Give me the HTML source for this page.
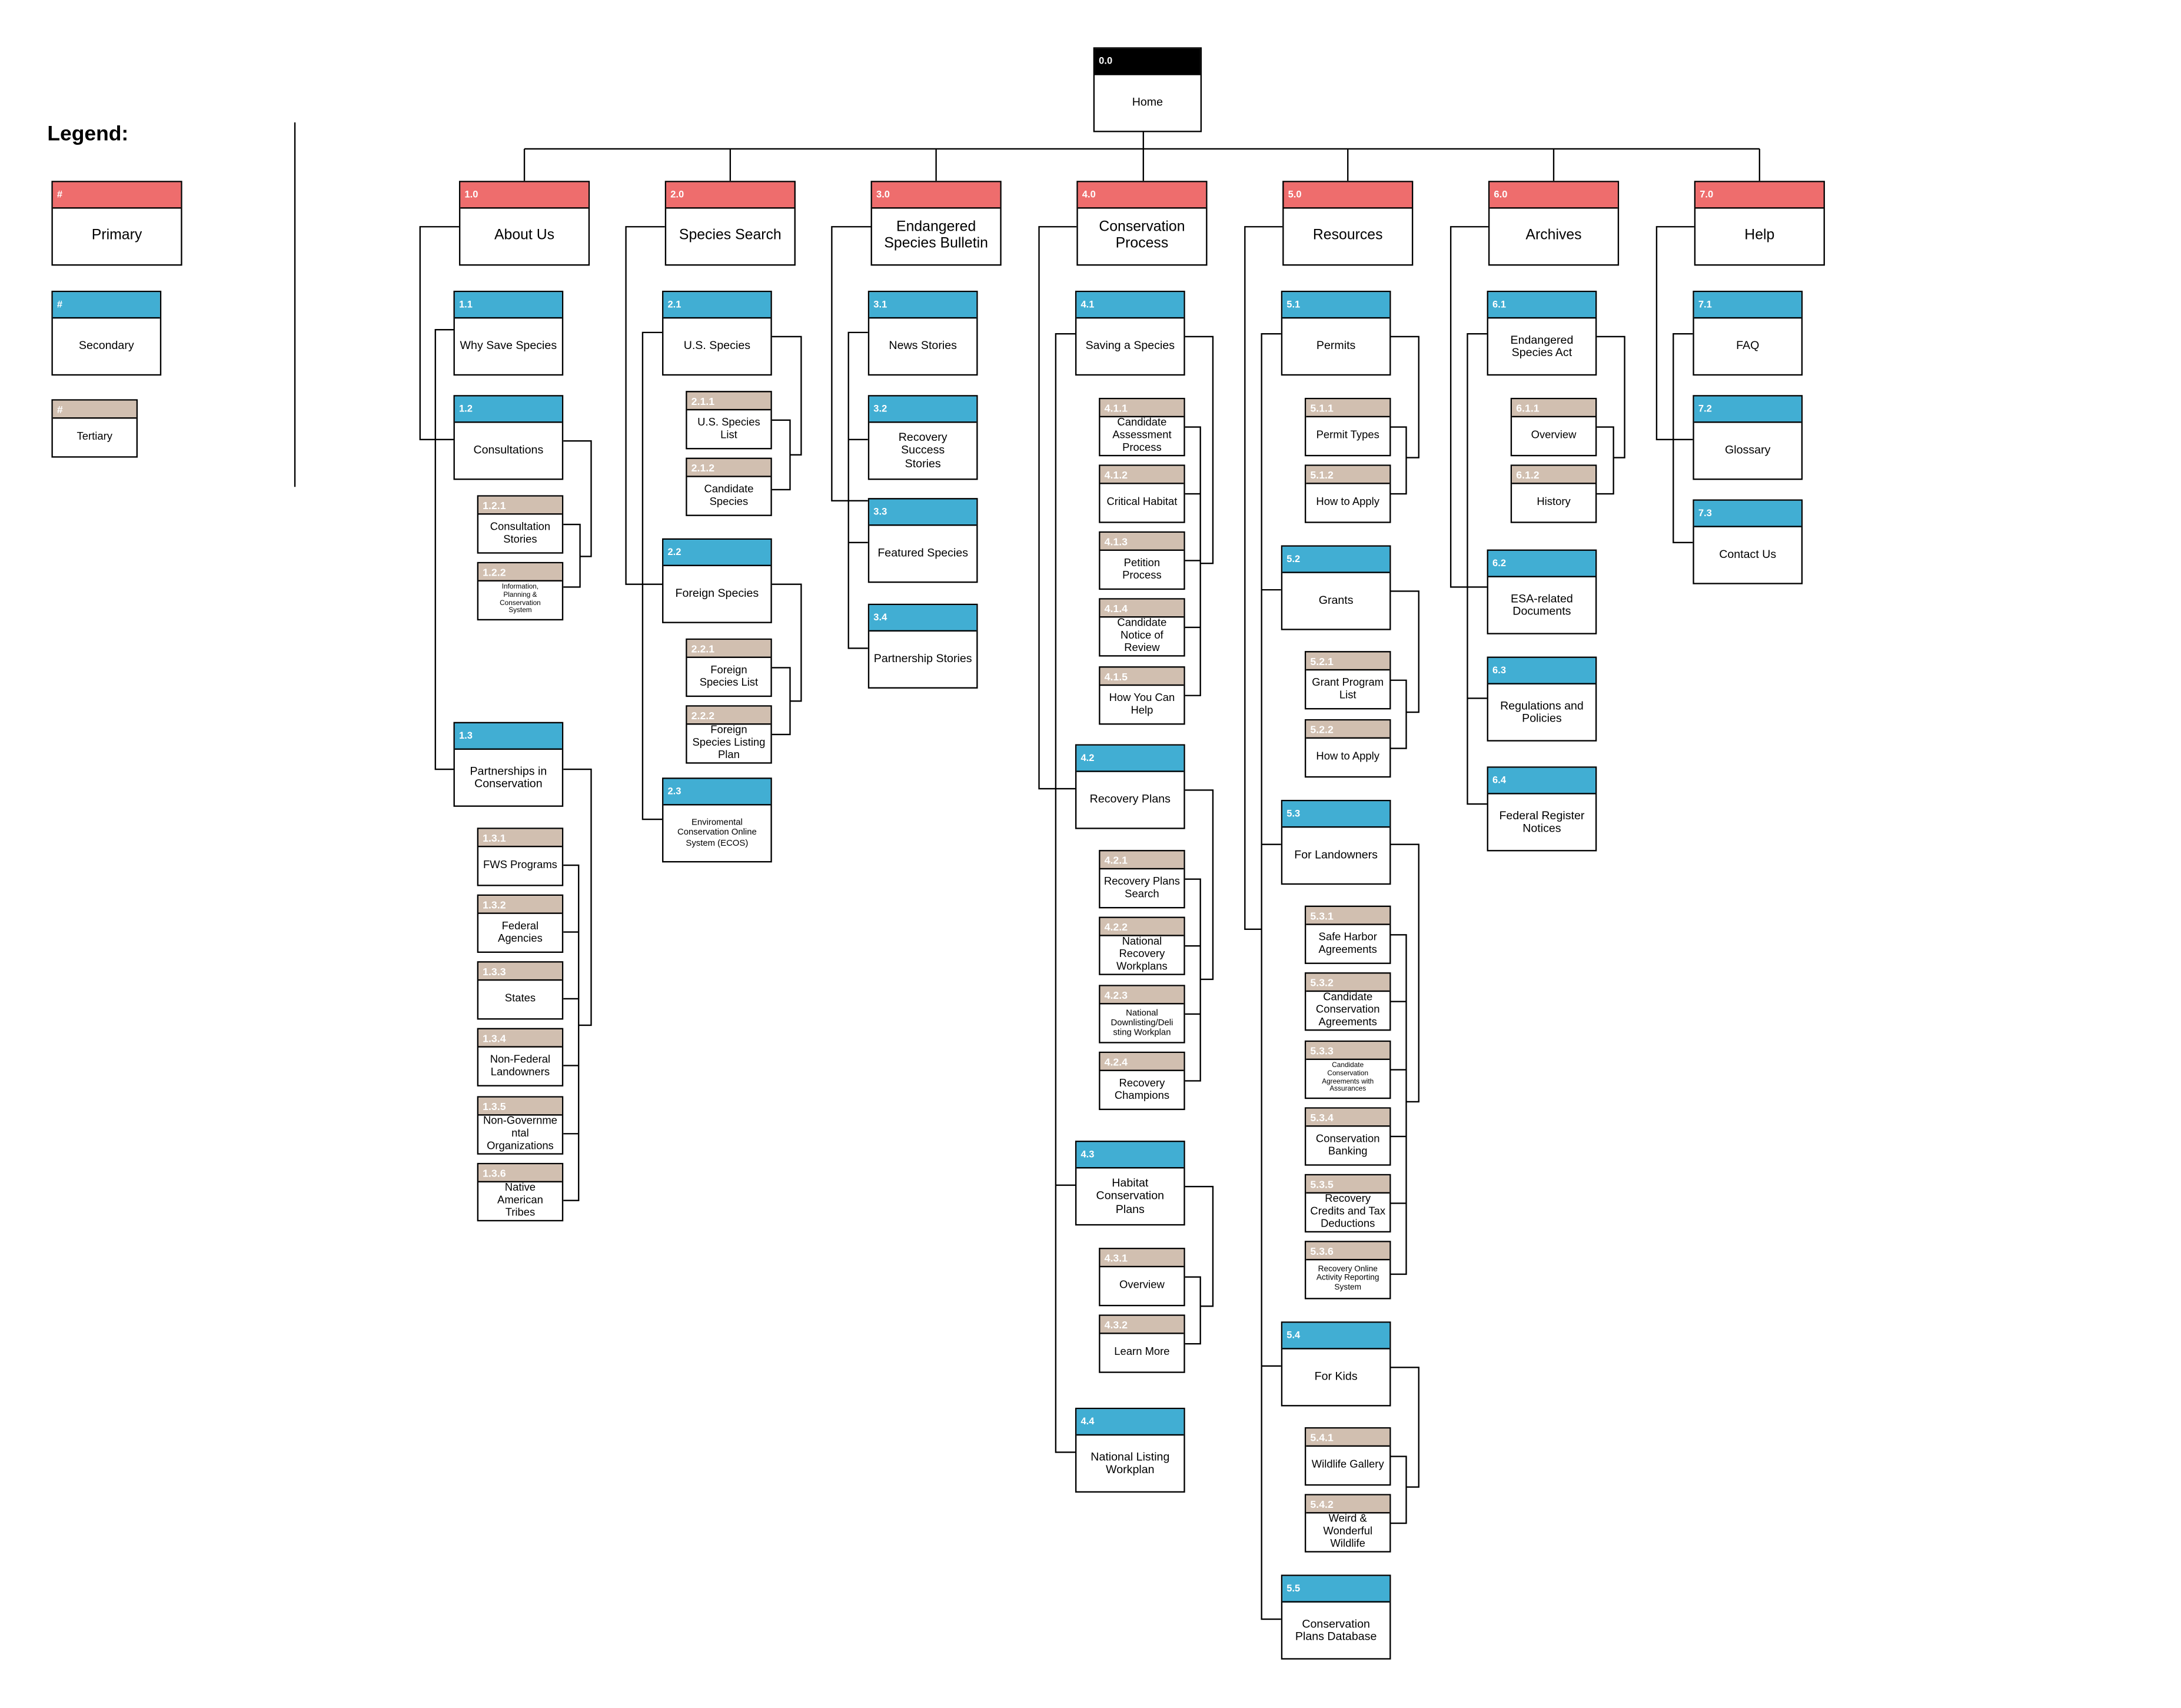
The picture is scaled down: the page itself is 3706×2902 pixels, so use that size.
<!DOCTYPE html>
<html><head><meta charset="utf-8"><style>
html,body{margin:0;padding:0;background:#fff;width:3706px;height:2902px;overflow:hidden}
#s{position:absolute;left:0;top:0;width:1568px;height:1228px;transform:scale(2.3635);transform-origin:0 0;font-family:"Liberation Sans",sans-serif}
.b{position:absolute;border:1px solid #000;background:#fff;box-sizing:border-box;display:flex;flex-direction:column}
.h{border-bottom:1px solid #000;color:#fff;font-weight:bold;font-size:7px;padding-left:3px;display:flex;align-items:center;box-sizing:border-box}
.t{flex:1;display:flex;align-items:center;justify-content:center;text-align:center;line-height:1.12;color:#000}
.P{width:94px;height:61px}.P .h{height:19px;background:#EE6D6D}.P .t{font-size:10.5px}
.S{width:79px;height:61px}.S .h{height:19px;background:#41AED3}.S .t{font-size:8.3px}
.T{width:62px;height:42px}.T .h{height:13px;background:#D1BFB0;font-size:7.5px}.T .t{font-size:7.8px}
.sm{font-size:6.3px!important}.xs{font-size:5px!important}
svg{position:absolute;left:0;top:0}
</style></head><body><div id="s">
<svg width="1568" height="1228" fill="none" stroke="#000" stroke-width="1">
<line x1="212" y1="88" x2="212" y2="350"/>
<polyline points="822,95 822,130"/>
<line x1="377" y1="107" x2="1265" y2="107"/>
<line x1="377" y1="107" x2="377" y2="130"/><line x1="525" y1="107" x2="525" y2="130"/><line x1="673" y1="107" x2="673" y2="130"/><line x1="969" y1="107" x2="969" y2="130"/><line x1="1117" y1="107" x2="1117" y2="130"/><line x1="1265" y1="107" x2="1265" y2="130"/>
<!-- col1 -->
<polyline points="330,163 302,163 302,316 326,316"/>
<polyline points="326,237 313,237 313,553 326,553"/>
<polyline points="405,317 425,317 425,400 417,400"/>
<polyline points="405,377 417,377 417,422 405,422"/>
<polyline points="405,553 425,553 425,737 416,737"/>
<polyline points="405,622 416,622 416,863 405,863"/>
<line x1="405" y1="670" x2="416" y2="670"/><line x1="405" y1="718" x2="416" y2="718"/><line x1="405" y1="766" x2="416" y2="766"/><line x1="405" y1="815" x2="416" y2="815"/>
<!-- col2 -->
<polyline points="478,163 450,163 450,420 476,420"/>
<polyline points="476,239 462,239 462,589 476,589"/>
<polyline points="554,242 576,242 576,327 568,327"/>
<polyline points="554,302 568,302 568,352 554,352"/>
<polyline points="554,420 576,420 576,504 568,504"/>
<polyline points="554,480 568,480 568,528 554,528"/>
<!-- col3 -->
<polyline points="626,163 598,163 598,360 624,360"/>
<polyline points="624,239 610,239 610,466 624,466"/>
<line x1="610" y1="316" x2="624" y2="316"/><line x1="610" y1="390" x2="624" y2="390"/>
<!-- col4 -->
<polyline points="774,163 747,163 747,567 773,567"/>
<polyline points="773,240 759,240 759,1044 773,1044"/>
<line x1="759" y1="852" x2="773" y2="852"/>
<polyline points="851,242 872,242 872,405 863,405"/>
<polyline points="851,307 863,307 863,500 851,500"/>
<line x1="851" y1="355" x2="863" y2="355"/><line x1="851" y1="403" x2="863" y2="403"/><line x1="851" y1="451" x2="863" y2="451"/>
<polyline points="851,568 872,568 872,704 863,704"/>
<polyline points="851,632 863,632 863,777 851,777"/>
<line x1="851" y1="680" x2="863" y2="680"/><line x1="851" y1="729" x2="863" y2="729"/>
<polyline points="851,853 872,853 872,939 863,939"/>
<polyline points="851,918 863,918 863,966 851,966"/>
<!-- col5 -->
<polyline points="922,163 895,163 895,668 907,668"/>
<polyline points="921,240 907,240 907,1164 921,1164"/>
<line x1="907" y1="424" x2="921" y2="424"/><line x1="907" y1="607" x2="921" y2="607"/><line x1="907" y1="982" x2="921" y2="982"/>
<polyline points="999,242 1020,242 1020,329 1011,329"/>
<polyline points="999,307 1011,307 1011,355 999,355"/>
<polyline points="999,425 1020,425 1020,512 1011,512"/>
<polyline points="999,489 1011,489 1011,538 999,538"/>
<polyline points="999,607 1020,607 1020,792 1011,792"/>
<polyline points="999,672 1011,672 1011,916 999,916"/>
<line x1="999" y1="720" x2="1011" y2="720"/><line x1="999" y1="769" x2="1011" y2="769"/><line x1="999" y1="817" x2="1011" y2="817"/><line x1="999" y1="865" x2="1011" y2="865"/>
<polyline points="999,983 1020,983 1020,1069 1011,1069"/>
<polyline points="999,1047 1011,1047 1011,1095 999,1095"/>
<!-- col6 -->
<polyline points="1070,163 1043,163 1043,422 1069,422"/>
<polyline points="1069,240 1055,240 1055,578 1069,578"/>
<line x1="1055" y1="502" x2="1069" y2="502"/>
<polyline points="1147,242 1168,242 1168,329 1160,329"/>
<polyline points="1147,307 1160,307 1160,355 1147,355"/>
<!-- col7 -->
<polyline points="1218,163 1191,163 1191,316 1217,316"/>
<polyline points="1217,240 1203,240 1203,390 1217,390"/>
</svg>

<div style="position:absolute;left:34px;top:88px;font-size:15px;font-weight:bold">Legend:</div>
<div class="b P" style="left:37px;top:130px"><div class="h">#</div><div class="t">Primary</div></div>
<div class="b S" style="left:37px;top:209px"><div class="h">#</div><div class="t">Secondary</div></div>
<div class="b T" style="left:37px;top:287px"><div class="h">#</div><div class="t">Tertiary</div></div>

<div class="b P" style="left:786px;top:34px;width:78px"><div class="h" style="background:#000">0.0</div><div class="t" style="font-size:8.3px">Home</div></div>

<div class="b P" style="left:330px;top:130px"><div class="h">1.0</div><div class="t">About Us</div></div>
<div class="b P" style="left:478px;top:130px"><div class="h">2.0</div><div class="t">Species Search</div></div>
<div class="b P" style="left:626px;top:130px"><div class="h">3.0</div><div class="t">Endangered<br>Species Bulletin</div></div>
<div class="b P" style="left:774px;top:130px"><div class="h">4.0</div><div class="t">Conservation<br>Process</div></div>
<div class="b P" style="left:922px;top:130px"><div class="h">5.0</div><div class="t">Resources</div></div>
<div class="b P" style="left:1070px;top:130px"><div class="h">6.0</div><div class="t">Archives</div></div>
<div class="b P" style="left:1218px;top:130px"><div class="h">7.0</div><div class="t">Help</div></div>

<!-- col1 -->
<div class="b S" style="left:326px;top:209px"><div class="h">1.1</div><div class="t">Why Save Species</div></div>
<div class="b S" style="left:326px;top:284px"><div class="h">1.2</div><div class="t">Consultations</div></div>
<div class="b T" style="left:343px;top:356px"><div class="h">1.2.1</div><div class="t">Consultation<br>Stories</div></div>
<div class="b T" style="left:343px;top:404px"><div class="h">1.2.2</div><div class="t xs">Information,<br>Planning &amp;<br>Conservation<br>System</div></div>
<div class="b S" style="left:326px;top:519px"><div class="h">1.3</div><div class="t">Partnerships in<br>Conservation</div></div>
<div class="b T" style="left:343px;top:595px"><div class="h">1.3.1</div><div class="t">FWS Programs</div></div>
<div class="b T" style="left:343px;top:643px"><div class="h">1.3.2</div><div class="t">Federal<br>Agencies</div></div>
<div class="b T" style="left:343px;top:691px"><div class="h">1.3.3</div><div class="t">States</div></div>
<div class="b T" style="left:343px;top:739px"><div class="h">1.3.4</div><div class="t">Non-Federal<br>Landowners</div></div>
<div class="b T" style="left:343px;top:788px"><div class="h">1.3.5</div><div class="t">Non-Governme<br>ntal<br>Organizations</div></div>
<div class="b T" style="left:343px;top:836px"><div class="h">1.3.6</div><div class="t">Native<br>American<br>Tribes</div></div>

<!-- col2 -->
<div class="b S" style="left:476px;top:209px"><div class="h">2.1</div><div class="t">U.S. Species</div></div>
<div class="b T" style="left:493px;top:281px"><div class="h">2.1.1</div><div class="t">U.S. Species<br>List</div></div>
<div class="b T" style="left:493px;top:329px"><div class="h">2.1.2</div><div class="t">Candidate<br>Species</div></div>
<div class="b S" style="left:476px;top:387px"><div class="h">2.2</div><div class="t">Foreign Species</div></div>
<div class="b T" style="left:493px;top:459px"><div class="h">2.2.1</div><div class="t">Foreign<br>Species List</div></div>
<div class="b T" style="left:493px;top:507px"><div class="h">2.2.2</div><div class="t">Foreign<br>Species Listing<br>Plan</div></div>
<div class="b S" style="left:476px;top:559px"><div class="h">2.3</div><div class="t sm">Enviromental<br>Conservation Online<br>System (ECOS)</div></div>

<!-- col3 -->
<div class="b S" style="left:624px;top:209px"><div class="h">3.1</div><div class="t">News Stories</div></div>
<div class="b S" style="left:624px;top:284px"><div class="h">3.2</div><div class="t">Recovery<br>Success<br>Stories</div></div>
<div class="b S" style="left:624px;top:358px"><div class="h">3.3</div><div class="t">Featured Species</div></div>
<div class="b S" style="left:624px;top:434px"><div class="h">3.4</div><div class="t">Partnership Stories</div></div>

<!-- col4 -->
<div class="b S" style="left:773px;top:209px"><div class="h">4.1</div><div class="t">Saving a Species</div></div>
<div class="b T" style="left:790px;top:286px"><div class="h">4.1.1</div><div class="t">Candidate<br>Assessment<br>Process</div></div>
<div class="b T" style="left:790px;top:334px"><div class="h">4.1.2</div><div class="t">Critical Habitat</div></div>
<div class="b T" style="left:790px;top:382px"><div class="h">4.1.3</div><div class="t">Petition<br>Process</div></div>
<div class="b T" style="left:790px;top:430px"><div class="h">4.1.4</div><div class="t">Candidate<br>Notice of<br>Review</div></div>
<div class="b T" style="left:790px;top:479px"><div class="h">4.1.5</div><div class="t">How You Can<br>Help</div></div>
<div class="b S" style="left:773px;top:535px"><div class="h">4.2</div><div class="t">Recovery Plans</div></div>
<div class="b T" style="left:790px;top:611px"><div class="h">4.2.1</div><div class="t">Recovery Plans<br>Search</div></div>
<div class="b T" style="left:790px;top:659px"><div class="h">4.2.2</div><div class="t">National<br>Recovery<br>Workplans</div></div>
<div class="b T" style="left:790px;top:708px"><div class="h">4.2.3</div><div class="t sm">National<br>Downlisting/Deli<br>sting Workplan</div></div>
<div class="b T" style="left:790px;top:756px"><div class="h">4.2.4</div><div class="t">Recovery<br>Champions</div></div>
<div class="b S" style="left:773px;top:820px"><div class="h">4.3</div><div class="t">Habitat<br>Conservation<br>Plans</div></div>
<div class="b T" style="left:790px;top:897px"><div class="h">4.3.1</div><div class="t">Overview</div></div>
<div class="b T" style="left:790px;top:945px"><div class="h">4.3.2</div><div class="t">Learn More</div></div>
<div class="b S" style="left:773px;top:1012px"><div class="h">4.4</div><div class="t">National Listing<br>Workplan</div></div>

<!-- col5 -->
<div class="b S" style="left:921px;top:209px"><div class="h">5.1</div><div class="t">Permits</div></div>
<div class="b T" style="left:938px;top:286px"><div class="h">5.1.1</div><div class="t">Permit Types</div></div>
<div class="b T" style="left:938px;top:334px"><div class="h">5.1.2</div><div class="t">How to Apply</div></div>
<div class="b S" style="left:921px;top:392px"><div class="h">5.2</div><div class="t">Grants</div></div>
<div class="b T" style="left:938px;top:468px"><div class="h">5.2.1</div><div class="t">Grant Program<br>List</div></div>
<div class="b T" style="left:938px;top:517px"><div class="h">5.2.2</div><div class="t">How to Apply</div></div>
<div class="b S" style="left:921px;top:575px"><div class="h">5.3</div><div class="t">For Landowners</div></div>
<div class="b T" style="left:938px;top:651px"><div class="h">5.3.1</div><div class="t">Safe Harbor<br>Agreements</div></div>
<div class="b T" style="left:938px;top:699px"><div class="h">5.3.2</div><div class="t">Candidate<br>Conservation<br>Agreements</div></div>
<div class="b T" style="left:938px;top:748px"><div class="h">5.3.3</div><div class="t xs">Candidate<br>Conservation<br>Agreements with<br>Assurances</div></div>
<div class="b T" style="left:938px;top:796px"><div class="h">5.3.4</div><div class="t">Conservation<br>Banking</div></div>
<div class="b T" style="left:938px;top:844px"><div class="h">5.3.5</div><div class="t">Recovery<br>Credits and Tax<br>Deductions</div></div>
<div class="b T" style="left:938px;top:892px"><div class="h">5.3.6</div><div class="t xs" style="font-size:5.8px!important">Recovery Online<br>Activity Reporting<br>System</div></div>
<div class="b S" style="left:921px;top:950px"><div class="h">5.4</div><div class="t">For Kids</div></div>
<div class="b T" style="left:938px;top:1026px"><div class="h">5.4.1</div><div class="t">Wildlife Gallery</div></div>
<div class="b T" style="left:938px;top:1074px"><div class="h">5.4.2</div><div class="t">Weird &amp;<br>Wonderful<br>Wildlife</div></div>
<div class="b S" style="left:921px;top:1132px"><div class="h">5.5</div><div class="t">Conservation<br>Plans Database</div></div>

<!-- col6 -->
<div class="b S" style="left:1069px;top:209px"><div class="h">6.1</div><div class="t">Endangered<br>Species Act</div></div>
<div class="b T" style="left:1086px;top:286px"><div class="h">6.1.1</div><div class="t">Overview</div></div>
<div class="b T" style="left:1086px;top:334px"><div class="h">6.1.2</div><div class="t">History</div></div>
<div class="b S" style="left:1069px;top:395px"><div class="h">6.2</div><div class="t">ESA-related<br>Documents</div></div>
<div class="b S" style="left:1069px;top:472px"><div class="h">6.3</div><div class="t">Regulations and<br>Policies</div></div>
<div class="b S" style="left:1069px;top:551px"><div class="h">6.4</div><div class="t">Federal Register<br>Notices</div></div>

<!-- col7 -->
<div class="b S" style="left:1217px;top:209px"><div class="h">7.1</div><div class="t">FAQ</div></div>
<div class="b S" style="left:1217px;top:284px"><div class="h">7.2</div><div class="t">Glossary</div></div>
<div class="b S" style="left:1217px;top:359px"><div class="h">7.3</div><div class="t">Contact Us</div></div>
</div></body></html>
